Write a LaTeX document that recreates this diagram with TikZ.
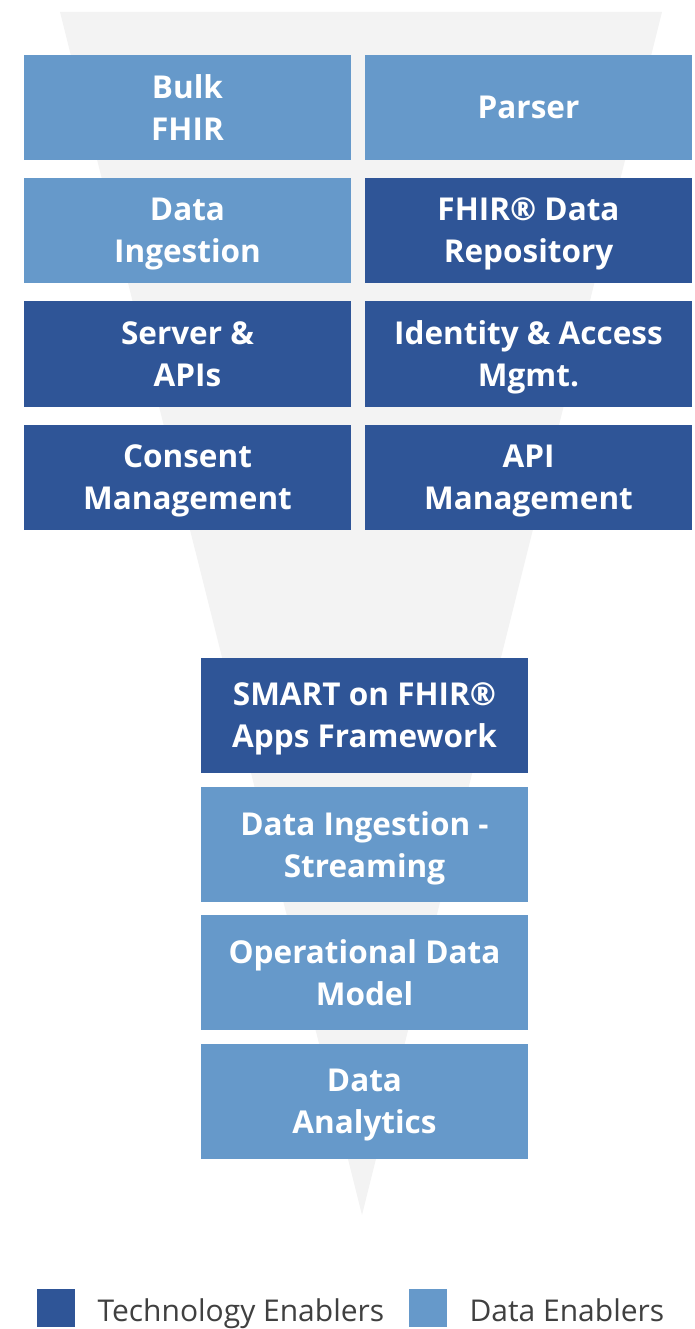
\documentclass[tikz,border=0pt]{standalone}
\usepackage{fontspec}
\setmainfont{Open Sans}
\usepackage{tikz}

\definecolor{techblue}{HTML}{2F5597}
\definecolor{datablue}{HTML}{6699CA}
\definecolor{funnelgray}{HTML}{F3F3F3}
\definecolor{legendgray}{HTML}{404040}

\begin{document}
\begin{tikzpicture}[x=1pt, y=-1pt,
    enabler/.style={minimum width=327pt, inner sep=0pt, text=white, align=center,
        text depth=0pt, font={\bfseries\fontsize{31.5}{42}\selectfont}},
    tech/.style={enabler, fill=techblue},
    data/.style={enabler, fill=datablue},
    upper/.style={minimum height=105pt},
    lower/.style={minimum height=115pt},
    key/.style={minimum size=38pt, inner sep=0pt},
    keytext/.style={anchor=base west, text=legendgray, font={\fontsize{30}{36}\selectfont}}]
    \useasboundingbox (0,0) rectangle (695,1329);

    % Funnel
    \fill[funnelgray] (60,12) -- (662,12) -- (362,1215) -- cycle;

    % Upper grid
    \node[data, upper] (bulk) at (187.5,107.5) {Bulk\\FHIR};
    \node[data, upper] (parser) at (528.5,107.5) {Parser};
    \node[data, upper] (ingest) at (187.5,230.5) {Data\\Ingestion};
    \node[tech, upper] (repo) at (528.5,230.5) {FHIR® Data\\Repository};
    \node[tech, upper] (server) at (187.5,354) {Server \&\\APIs};
    \node[tech, upper] (iam) at (528.5,354) {Identity \& Access\\Mgmt.};
    \node[tech, upper] (consent) at (187.5,477.5) {Consent\\Management};
    \node[tech, upper] (apimgmt) at (528.5,477.5) {API\\Management};

    % Lower stack
    \node[tech, lower] (smart) at (364.5,715.5) {SMART on FHIR®\\Apps Framework};
    \node[data, lower] (stream) at (364.5,844.5) {Data Ingestion -\\Streaming};
    \node[data, lower] (odm) at (364.5,972.5) {Operational Data\\Model};
    \node[data, lower] (analytics) at (364.5,1101.5) {Data\\Analytics};

    % Legend
    \node[key, fill=techblue] (techkey) at (56,1308) {};
    \node[keytext] (techlabel) at (94,1321) {Technology Enablers};
    \node[key, fill=datablue] (datakey) at (428,1308) {};
    \node[keytext] (datalabel) at (466,1321) {Data Enablers};
\end{tikzpicture}
\end{document}
